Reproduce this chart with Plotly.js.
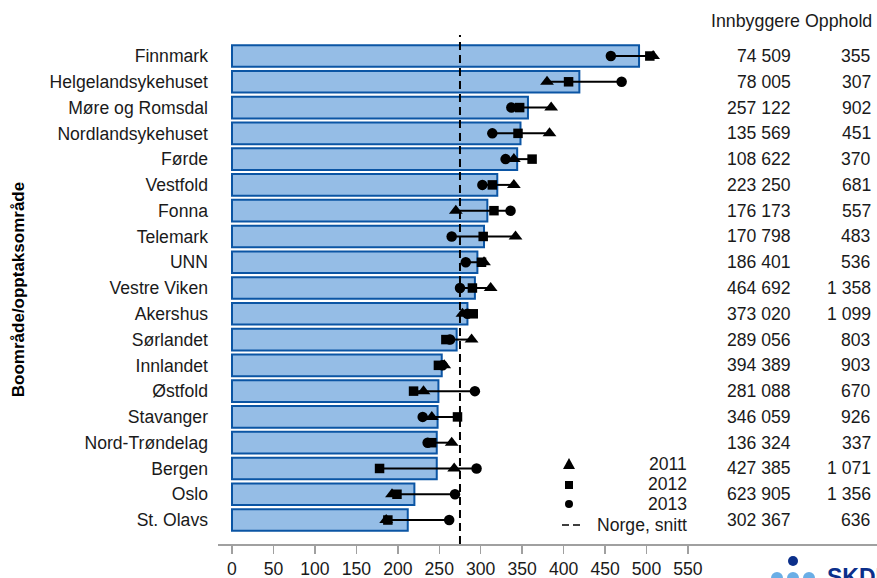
<!DOCTYPE html>
<html>
<head>
<meta charset="utf-8">
<script src="https://cdn.plot.ly/plotly-3.0.1.min.js"></script>
<style>
html,body{margin:0;padding:0;background:#fff;}
#chart{width:877px;height:578px;}
</style>
</head>
<body>
<div id="chart"></div>
<script>
// ---- data ----
var categories = ["Finnmark","Helgelandsykehuset","Møre og Romsdal","Nordlandsykehuset","Førde","Vestfold","Fonna","Telemark","UNN","Vestre Viken","Akershus","Sørlandet","Innlandet","Østfold","Stavanger","Nord-Trøndelag","Bergen","Oslo","St. Olavs"];
var snitt = [491, 419, 357, 348, 344, 320, 308, 304, 296, 293, 284, 271, 253, 249, 248, 247, 247, 220, 212];
var v2011 = [508, 380, 385, 383, 340, 340, 270, 342, 304, 312, 278, 289, 256, 231, 241, 265, 268, 193, 186];
var v2012 = [504, 406, 347, 345, 362, 314, 316, 303, 301, 290, 291, 258, 249, 219, 272, 241, 178, 199, 188];
var v2013 = [457, 470, 337, 314, 330, 302, 336, 265, 282, 275, 284, 263, 254, 293, 230, 236, 295, 269, 262];
var innbyggere = ["74 509","78 005","257 122","135 569","108 622","223 250","176 173","170 798","186 401","464 692","373 020","289 056","394 389","281 088","346 059","136 324","427 385","623 905","302 367"];
var opphold = ["355","307","902","451","370","681","557","483","536","1 358","1 099","803","903","670","926","337","1 071","1 356","636"];
var norgeSnitt = 275;
var xTicks = [0,50,100,150,200,250,300,350,400,450,500,550];
var colHeaders = ["Innbyggere","Opphold"];

// ---- layout helpers (pixel -> paper) ----
var W = 877, H = 578, ML = 218, MR = 0, MT = 35, MB = 34;
var PW = W - ML - MR, PH = H - MT - MB;
function px(x){ return (x - ML) / PW; }
function py(y){ return (H - MB - y) / PH; }

var FONT = "Liberation Sans, Arial, sans-serif";
var TXT = "#1a1a1a";
var FS = 17.6;

// range lines
var lx = [], ly = [];
for (var i = 0; i < categories.length; i++) {
  var a = [v2011[i], v2012[i], v2013[i]];
  lx.push(Math.min.apply(null, a), Math.max.apply(null, a), null);
  ly.push(categories[i], categories[i], null);
}

var traces = [
  {type:"bar", orientation:"h", y:categories, x:snitt, width:0.84,
   marker:{color:"#95BDE6", line:{color:"#0B55A4", width:2}}, showlegend:false, hoverinfo:"x+y"},
  {type:"scatter", mode:"lines", x:lx, y:ly, line:{color:"#000", width:2}, showlegend:false, hoverinfo:"skip"},
  {type:"scatter", mode:"markers", name:"2011", x:v2011, y:categories,
   marker:{symbol:"triangle-up", size:12, color:"#000"}, showlegend:false},
  {type:"scatter", mode:"markers", name:"2012", x:v2012, y:categories,
   marker:{symbol:"square", size:9.5, color:"#000"}, showlegend:false},
  {type:"scatter", mode:"markers", name:"2013", x:v2013, y:categories,
   marker:{symbol:"circle", size:10.5, color:"#000"}, showlegend:false}
];

var annotations = [];
for (var j = 0; j < categories.length; j++) {
  annotations.push({xref:"paper", yref:"y", x:px(793), y:categories[j], xanchor:"right", yanchor:"middle",
    text:innbyggere[j], showarrow:false, font:{family:FONT, size:FS, color:TXT}});
  annotations.push({xref:"paper", yref:"y", x:px(873), y:categories[j], xanchor:"right", yanchor:"middle",
    text:opphold[j], showarrow:false, font:{family:FONT, size:FS, color:TXT}});
}
annotations.push({xref:"paper", yref:"paper", x:px(802), y:py(21), xanchor:"right", yanchor:"middle",
  text:colHeaders[0], showarrow:false, font:{family:FONT, size:17.8, color:TXT}});
annotations.push({xref:"paper", yref:"paper", x:px(874), y:py(21), xanchor:"right", yanchor:"middle",
  text:colHeaders[1], showarrow:false, font:{family:FONT, size:17.8, color:TXT}});

// legend (custom)
var legendLabels = ["2011","2012","2013","Norge, snitt"];
var legendY = [464, 484, 504, 525];
for (var k = 0; k < legendLabels.length; k++) {
  annotations.push({xref:"paper", yref:"paper", x:px(689), y:py(legendY[k]), xanchor:"right", yanchor:"middle",
    text:legendLabels[k], showarrow:false, font:{family:FONT, size:FS, color:TXT}});
}
// logo text
annotations.push({xref:"paper", yref:"paper", x:px(825), y:py(562), xanchor:"left", yanchor:"top",
  text:"<b>SKDE</b>", showarrow:false, font:{family:FONT, size:23, color:"#0B2F8A"}});

var shapes = [
  {type:"line", xref:"x", yref:"paper", x0:norgeSnitt, x1:norgeSnitt, y0:0, y1:1,
   line:{color:"#000", width:2, dash:"8px,5px"}},
  // legend glyphs
  {type:"path", xref:"paper", yref:"paper", xsizemode:"pixel", ysizemode:"pixel",
   xanchor:px(569), yanchor:py(464), path:"M-6,-5 L6,-5 L0,6 Z", fillcolor:"#000", line:{width:0}},
  {type:"rect", xref:"paper", yref:"paper", xsizemode:"pixel", ysizemode:"pixel",
   xanchor:px(569), yanchor:py(485), x0:-4, x1:4, y0:-4, y1:4, fillcolor:"#000", line:{width:0}},
  {type:"circle", xref:"paper", yref:"paper", xsizemode:"pixel", ysizemode:"pixel",
   xanchor:px(569), yanchor:py(504), x0:-4, x1:4, y0:-4, y1:4, fillcolor:"#000", line:{width:0}},
  {type:"line", xref:"paper", yref:"paper", x0:px(562), x1:px(580), y0:py(525), y1:py(525),
   line:{color:"#000", width:1.5, dash:"7px,4px"}},
  // logo dots
  {type:"circle", xref:"paper", yref:"paper", xsizemode:"pixel", ysizemode:"pixel",
   xanchor:px(793), yanchor:py(561), x0:-5, x1:5, y0:-5, y1:5, fillcolor:"#0B2F8A", line:{width:0}},
  {type:"circle", xref:"paper", yref:"paper", xsizemode:"pixel", ysizemode:"pixel",
   xanchor:px(777), yanchor:py(578), x0:-6, x1:6, y0:-6, y1:6, fillcolor:"#6AAEE6", line:{width:0}},
  {type:"circle", xref:"paper", yref:"paper", xsizemode:"pixel", ysizemode:"pixel",
   xanchor:px(793), yanchor:py(578), x0:-6, x1:6, y0:-6, y1:6, fillcolor:"#6AAEE6", line:{width:0}},
  {type:"circle", xref:"paper", yref:"paper", xsizemode:"pixel", ysizemode:"pixel",
   xanchor:px(809), yanchor:py(578), x0:-6, x1:6, y0:-6, y1:6, fillcolor:"#6AAEE6", line:{width:0}}
];

var layout = {
  width:W, height:H,
  margin:{l:ML, r:MR, t:MT, b:MB, pad:0},
  paper_bgcolor:"#fff", plot_bgcolor:"#fff",
  showlegend:false,
  font:{family:FONT, size:FS, color:TXT},
  xaxis:{range:[(ML-232)/0.829, (W-232)/0.829], tickvals:xTicks, ticktext:xTicks.map(String),
    showgrid:false, zeroline:false, showline:true, linecolor:"#A0A0A0", linewidth:1.5,
    ticks:"outside", ticklen:8, tickwidth:1.5, tickcolor:"#A0A0A0",
    tickfont:{family:FONT, size:FS, color:TXT}, fixedrange:true},
  yaxis:{type:"category", range:[18.93, -0.815], showgrid:false, zeroline:false, showline:false,
    ticks:"", ticklabelstandoff:9, tickfont:{family:FONT, size:FS, color:TXT},
    title:{text:"Boområde/opptaksområde", standoff:20, font:{family:FONT, size:17, color:"#000", weight:"bold"}},
    fixedrange:true},
  annotations:annotations,
  shapes:shapes
};

Plotly.newPlot("chart", traces, layout, {displayModeBar:false, staticPlot:true});
</script>
</body>
</html>
